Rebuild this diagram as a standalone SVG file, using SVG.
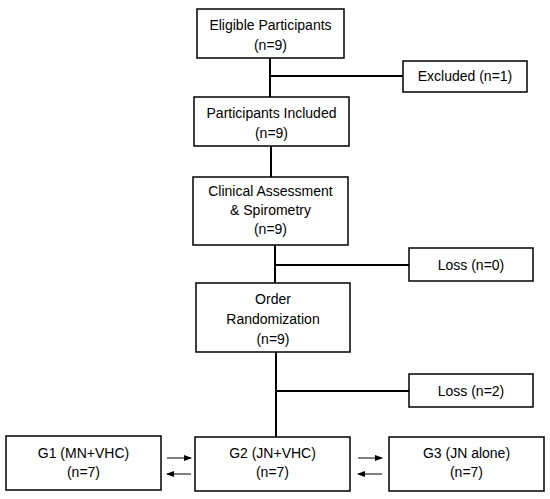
<svg xmlns="http://www.w3.org/2000/svg" width="550" height="499" viewBox="0 0 550 499">
<style>
.box{fill:#fff;stroke:#000;stroke-width:1.5}
.t{font-family:"Liberation Sans",Arial,sans-serif;font-size:14px;fill:#000;text-anchor:middle}
.c{stroke:#000;stroke-width:2;fill:none}
.a{stroke:#000;stroke-width:1;fill:none}
</style>
<defs>
<marker id="ah" markerWidth="8" markerHeight="6" refX="7" refY="3" orient="auto" markerUnits="userSpaceOnUse">
<path d="M0,0 L8,3 L0,6 Z" fill="#000"/>
</marker>
</defs>
<rect width="550" height="499" fill="#fff"/>
<g id="connectors">
<line class="c" x1="270" y1="58" x2="270" y2="97"/>
<line class="c" x1="270" y1="76" x2="403" y2="76"/>
<line class="c" x1="271" y1="146" x2="271" y2="177"/>
<line class="c" x1="275" y1="245" x2="275" y2="283"/>
<line class="c" x1="275" y1="265" x2="409" y2="265"/>
<line class="c" x1="276" y1="352" x2="276" y2="437"/>
<line class="c" x1="276" y1="391" x2="409" y2="391"/>
<line class="a" x1="167" y1="458" x2="191" y2="458" marker-end="url(#ah)"/>
<line class="a" x1="191" y1="474" x2="167" y2="474" marker-end="url(#ah)"/>
<line class="a" x1="358" y1="458" x2="382" y2="458" marker-end="url(#ah)"/>
<line class="a" x1="382" y1="474" x2="358" y2="474" marker-end="url(#ah)"/>
</g>
<g id="eligible">
<rect class="box" x="197" y="9" width="147" height="49"/>
<text class="t" x="270.5" y="30">Eligible Participants</text>
<text class="t" x="270.5" y="50">(n=9)</text>
</g>
<g id="excluded">
<rect class="box" x="403" y="61" width="124" height="31"/>
<text class="t" x="465" y="81">Excluded (n=1)</text>
</g>
<g id="included">
<rect class="box" x="194" y="97" width="155" height="49"/>
<text class="t" x="271.5" y="118">Participants Included</text>
<text class="t" x="271.5" y="138">(n=9)</text>
</g>
<g id="clinical">
<rect class="box" x="193" y="177" width="155" height="68"/>
<text class="t" x="270.5" y="196">Clinical Assessment</text>
<text class="t" x="270.5" y="215">&amp; Spirometry</text>
<text class="t" x="270.5" y="234">(n=9)</text>
</g>
<g id="loss0">
<rect class="box" x="409" y="248" width="124" height="33"/>
<text class="t" x="471" y="270">Loss (n=0)</text>
</g>
<g id="randomization">
<rect class="box" x="196" y="283" width="154" height="69"/>
<text class="t" x="273" y="304">Order</text>
<text class="t" x="273" y="324">Randomization</text>
<text class="t" x="273" y="344">(n=9)</text>
</g>
<g id="loss2">
<rect class="box" x="409" y="374" width="124" height="33"/>
<text class="t" x="471" y="396">Loss (n=2)</text>
</g>
<g id="g1">
<rect class="box" x="6" y="436" width="155" height="54"/>
<text class="t" x="83.5" y="458">G1 (MN+VHC)</text>
<text class="t" x="83.5" y="477">(n=7)</text>
</g>
<g id="g2">
<rect class="box" x="195" y="437" width="155" height="54"/>
<text class="t" x="272.5" y="458">G2 (JN+VHC)</text>
<text class="t" x="272.5" y="477">(n=7)</text>
</g>
<g id="g3">
<rect class="box" x="389" y="437" width="155" height="54"/>
<text class="t" x="466.5" y="458">G3 (JN alone)</text>
<text class="t" x="466.5" y="477">(n=7)</text>
</g>
</svg>
